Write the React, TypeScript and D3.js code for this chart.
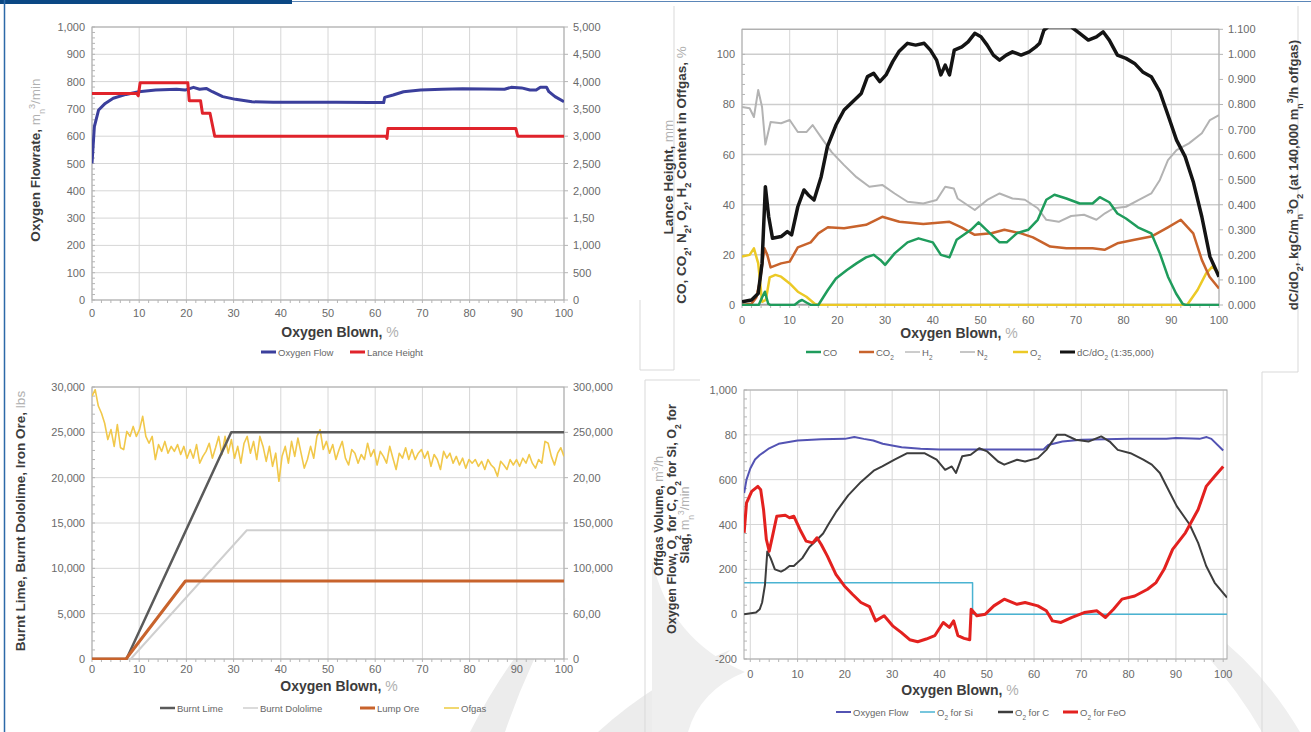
import React, { useEffect, useRef } from "react";
import * as d3 from "d3";

type Pt = [number, number];

// ---- shared x axis: oxygen blown, %
const blownTicks = [0, 10, 20, 30, 40, 50, 60, 70, 80, 90, 100];

// ---- chart 1: oxygen flowrate (left) and lance height (right)
const flowTicks = [0, 100, 200, 300, 400, 500, 600, 700, 800, 900, 1000];
const flowLabels = ["0", "100", "200", "300", "400", "500", "600", "700", "800", "900", "1,000"];
const lanceTicks = [0, 500, 1000, 1500, 2000, 2500, 3000, 3500, 4000, 4500, 5000];
const lanceLabels = ["0", "500", "1,000", "1,50", "2,000", "2,500", "3,000", "3,500", "4,000", "4,500", "5,000"];
const oxygenFlow: Pt[] = [
  [0, 500], [0.5, 635], [1.4, 696], [2.8, 720], [4.5, 739], [7.2, 753], [9.9, 763], [13.5, 769],
  [17.9, 772], [19.7, 769], [21.5, 779], [22.8, 772], [24.2, 775], [25.5, 763], [27.7, 745],
  [30.4, 735], [33.9, 726], [38.4, 724], [42.9, 724], [51.8, 724], [58.9, 723], [61.8, 723],
  [62, 742], [63.8, 751], [66, 763], [69.6, 769], [74.1, 772], [78.5, 774], [87.4, 772],
  [88.8, 779], [91, 777], [92.8, 769], [94.1, 769], [95, 779], [96.3, 779], [96.8, 763],
  [98.1, 745], [100, 726],
];
const lanceHeight: Pt[] = [
  [0, 3780], [9.5, 3780], [9.8, 3740], [10.2, 3980], [20.3, 3980], [20.6, 3650], [23, 3650],
  [23.4, 3420], [25, 3420], [26, 3000], [62.3, 3000], [62.5, 2960], [62.7, 3140], [89.8, 3140],
  [90.2, 3000], [100, 3000],
];

// ---- chart 2: offgas content, % (left) and dC/dO2 (right)
const contentTicks = [0, 20, 40, 60, 80, 100];
const contentGrid = [0, 20, 40, 60, 80, 100, 110];
const rateTicks = [0, 0.1, 0.2, 0.3, 0.4, 0.5, 0.6, 0.7, 0.8, 0.9, 1.0, 1.1];
const coContent: Pt[] = [
  [0, 0], [3.5, 0], [4.2, 3], [4.8, 5.3], [5.5, 0.5], [6, 0], [11, 0], [12, 1.5], [12.6, 2],
  [13.5, 1], [14.5, 0], [16, 0], [17, 3], [18, 6], [19.7, 10.6], [22, 14], [24, 16.6], [26, 19],
  [27.6, 20], [29, 18], [30, 16], [32, 20.6], [34.7, 25], [37, 26.6], [40, 25], [41.7, 20],
  [43.5, 19], [45, 26], [48, 30], [49.6, 33], [52, 28.6], [54, 25], [55.5, 25], [57.6, 28.6],
  [60, 30], [62, 34], [63.8, 42], [65.5, 44], [68, 42.5], [70.8, 40.5], [73.5, 40.5], [75, 43],
  [77, 41], [78.7, 36.5], [80.5, 34.5], [83, 31], [85.8, 28.6], [87.6, 20.6], [89.3, 11.3],
  [91, 4.6], [92.4, 0.4], [93, 0], [100, 0],
];
const co2Content: Pt[] = [
  [0, 0], [2, 0.5], [3, 3], [3.8, 10], [4.7, 22.6], [5.3, 20], [6, 15], [8.2, 16.6], [10, 17.3],
  [11.7, 23], [14.4, 25], [16, 28.6], [18, 31], [21.4, 30.6], [26, 32], [29.4, 35.2], [33, 33.2],
  [38, 32.3], [43.5, 33.2], [46, 31], [48.8, 28], [52.3, 28.6], [55, 30], [58.5, 28.6], [61, 27],
  [64.6, 23.3], [68, 22.6], [73.5, 22.6], [76, 22], [78.7, 24.6], [82.3, 26], [85.8, 27.3],
  [89.3, 31], [92, 34], [94.6, 28.6], [96.4, 18], [98, 11.3], [100, 6.6],
];
const h2Content: Pt[] = [[0, 0.3], [100, 0.3]];
const n2Content: Pt[] = [
  [0, 79], [1.6, 78.5], [2.5, 75], [3.4, 85.8], [4.2, 79], [4.9, 64], [6, 73], [8.2, 72.5],
  [10, 73.8], [11.7, 69], [13.5, 69], [14.8, 71.8], [17, 65.8], [18.8, 61], [21.4, 55.8], [24, 51],
  [26.7, 47.2], [29.4, 47.9], [32, 44.5], [34.7, 41.2], [38, 40.5], [40.8, 41.9], [42.6, 47.2],
  [44.4, 46.5], [45.2, 42.5], [48.8, 37.9], [51.4, 41.9], [54, 44.5], [56.7, 42.5], [59.3, 42],
  [62, 38.6], [63.8, 34], [66.4, 33.2], [69, 35.5], [71.7, 36], [74.3, 34], [76.1, 36.6],
  [77.9, 38.6], [80.5, 39.2], [83.2, 41.9], [85.8, 44.5], [87.6, 49.9], [89.3, 57.8], [91.1, 61.8],
  [93.7, 64.5], [96.4, 68.5], [98.1, 73.8], [100, 75.8],
];
const o2Content: Pt[] = [
  [0, 19.3], [1.6, 20], [2.5, 22.6], [3.4, 16.6], [4.2, 1.3], [5, 2], [5.8, 11], [7, 12],
  [8.2, 11.3], [10, 8.6], [11.7, 5.3], [13.5, 3.3], [15.3, 0.4], [16, 0], [93.3, 0], [95.5, 6],
  [97.3, 12.6], [98.6, 15.3], [100, 12.6],
];
const carbonRate: Pt[] = [
  [0, 0.013], [2, 0.02], [3.4, 0.046], [4.2, 0.166], [4.9, 0.472], [5.6, 0.352], [6.4, 0.266],
  [8.2, 0.273], [9.5, 0.293], [10.4, 0.28], [11.7, 0.392], [13, 0.459], [13.9, 0.439],
  [15.1, 0.419], [16.6, 0.512], [17.9, 0.632], [19.7, 0.718], [21.4, 0.778], [23.2, 0.811],
  [25, 0.844], [26.3, 0.911], [27.6, 0.924], [28.9, 0.891], [30.2, 0.918], [31.6, 0.971],
  [32.9, 1.011], [34.7, 1.044], [36.4, 1.037], [38.2, 1.044], [39.5, 1.017], [40.8, 0.977],
  [41.7, 0.918], [42.6, 0.957], [43.5, 0.918], [44.5, 1.017], [46.1, 1.03], [47.4, 1.05],
  [48.8, 1.084], [50.1, 1.07], [51.4, 1.037], [52.7, 0.997], [54, 0.977], [55.4, 0.997],
  [56.7, 1.01], [58.5, 0.997], [60.2, 1.01], [61.6, 1.03], [62.4, 1.044], [63.3, 1.097],
  [64.2, 1.11], [69, 1.11], [70.8, 1.084], [72.6, 1.057], [74.3, 1.07], [75.7, 1.09], [77, 1.057],
  [78.7, 0.997], [80.5, 0.984], [82.3, 0.964], [84, 0.93], [85.8, 0.911], [87.6, 0.851],
  [89.3, 0.758], [91.1, 0.658], [92.9, 0.592], [94.6, 0.492], [96.4, 0.352], [98.1, 0.193],
  [100, 0.113],
];

// ---- chart 3: flux additions, lbs (left) and offgas (right, thousands)
const fluxTicks = [0, 5000, 10000, 15000, 20000, 25000, 30000];
const fluxLabels = ["0", "5,000", "10,000", "15,000", "20,000", "25,000", "30,000"];
const offgasTicks = [0, 50, 100, 150, 200, 250, 300];
const offgasLabels = ["0", "60,00", "100,000", "150,000", "20,00", "250,000", "300,000"];
const burntLime: Pt[] = [[0, 0], [7.3, 0], [29.5, 25000], [100, 25000]];
const burntDolomite: Pt[] = [[0, 0], [8.2, 0], [32.8, 14200], [100, 14200]];
const lumpOre: Pt[] = [[0, 0], [7.2, 0], [19.8, 8600], [100, 8600]];
// offgas readings, evenly spaced over 0–100 % blown
const offgasValues = [
  290, 297, 279, 271, 260, 242, 253, 234.5, 258.5, 233,
  231, 251, 245.5, 256.5, 245.5, 253, 267.6, 245.5, 238, 245.5,
  220, 236.5, 229, 240, 227, 234.5, 229, 236.5, 225.5, 234.5,
  221.5, 231, 221.5, 236.5, 216, 223.5, 229, 238, 221.5, 233,
  245.5, 225.5, 245.5, 227, 242, 221.5, 234.5, 216, 238, 245.5,
  227, 240, 220, 245.5, 234.5, 218, 234.5, 212.5, 227, 196,
  223.5, 234.5, 216, 240, 223.5, 243.7, 227, 210.5, 220, 234.5,
  221.5, 245.5, 253, 231, 240, 227, 236.5, 220, 231, 240,
  221.5, 214, 231, 227, 216, 225.5, 220, 238, 223.5, 231,
  214, 229, 223.5, 216, 234.5, 221.5, 209, 227, 221.5, 233,
  220, 231, 220, 227, 231, 221.5, 229, 212.5, 225.5, 220,
  209, 229, 221.5, 227, 216, 223.5, 214, 221.5, 210.5, 220,
  216, 220, 212.5, 218, 209, 220, 214, 210.5, 201.5, 218,
  214, 209, 220, 214, 220, 212.5, 221.5, 216, 225.5, 216,
  210.5, 220, 216, 240, 238, 223.5, 214, 227, 233, 223.5,
];

// ---- chart 4: oxygen balance, m3/min
const balanceTicks = [-200, 0, 200, 400, 600, 800, 1000];
const balanceLabels = ["-200", "0", "200", "400", "600", "80", "1,000"];
const flow4: Pt[] = [
  [-1.3, 540], [-0.8, 600], [0, 650], [1, 690], [2, 710], [4, 740], [6, 760], [10, 775], [15, 780],
  [20, 782], [22, 790], [24, 782], [26, 775], [28, 760], [32, 745], [36, 738], [40, 735], [50, 735],
  [62, 735], [63, 755], [66, 770], [70, 778], [80, 782], [88, 782], [90, 786], [95, 782],
  [96.5, 790], [97.5, 782], [100, 730],
];
const o2ForSi: Pt[] = [[-1.3, 140], [47, 140], [47, 0], [100.8, 0]];
const o2ForC: Pt[] = [
  [-1.3, 0], [1.2, 7], [2, 22], [2.5, 52], [3.1, 130], [3.6, 280], [4.3, 250], [5.2, 200],
  [6.5, 190], [7.4, 200], [8.3, 215], [9.2, 215], [11, 250], [12.5, 300], [14, 330], [15.4, 360],
  [16.5, 400], [18.1, 455], [20.7, 530], [23.4, 590], [26.1, 640], [27.9, 659], [30.5, 689],
  [33.2, 718], [36.8, 718], [39.4, 689], [41.2, 644], [42.6, 659], [43.5, 630], [44.8, 704],
  [46.6, 711], [48.4, 740], [50.1, 726], [52.4, 681], [53.7, 667], [56.4, 689], [58.1, 681],
  [60.8, 696], [62.6, 733], [64.8, 800], [66.6, 800], [68.8, 778], [71.5, 770], [74.2, 793],
  [76, 770], [77.7, 733], [80.4, 718], [83.1, 689], [84.9, 667], [86.6, 630], [88.4, 555],
  [90.2, 481], [92.9, 400], [94.7, 318], [96.4, 215], [98.2, 140], [100.8, 74],
];
const o2ForFeO: Pt[] = [
  [-1.3, 363], [-0.8, 496], [0.3, 548], [1.6, 570], [2.2, 555], [2.8, 467], [3.4, 333], [4, 281],
  [4.7, 348], [5.6, 437], [7.4, 441], [8.3, 430], [9.2, 437], [10.5, 378], [11.8, 326],
  [13.2, 318], [14.1, 341], [15, 311], [16.3, 259], [18.1, 178], [19.9, 126], [21.6, 89],
  [23.4, 52], [25.2, 34], [26.5, -30], [28.3, -7], [30.1, -52], [31.9, -81], [33.7, -114],
  [35.4, -123], [37.2, -111], [39, -96], [40.8, -37], [42.1, -59], [43, -30], [43.9, -96],
  [45.2, -108], [46.4, -114], [46.7, 22], [47.9, -7], [49.7, 0], [51.5, 37], [53.7, 67],
  [56.4, 44], [58.1, 52], [60.8, 37], [62.6, 15], [63.9, -30], [65.7, -37], [67.9, -15],
  [70.6, 7], [73.3, 15], [75.1, -15], [76.8, 22], [78.6, 67], [81.3, 81], [84, 111], [85.8, 141],
  [87.5, 200], [89.3, 289], [92, 363], [94.7, 467], [96.4, 570], [98.2, 615], [100, 659],
];

const FONT = "'Liberation Sans', Arial, Helvetica, sans-serif";
type Part = [string, string?];

// text made of pieces: g = grey unit, b = subscript, p = superscript
function rich(sel: any, parts: Part[]) {
  for (const [t, s = ""] of parts) {
    const ts = sel.append("tspan").text(t);
    if (s.includes("g")) ts.attr("fill", "#b0b0b0").attr("font-weight", "normal");
    if (s.includes("b")) ts.attr("baseline-shift", "sub").attr("font-size", "68%");
    if (s.includes("p")) ts.attr("baseline-shift", "super").attr("font-size", "68%");
  }
}

interface LineSpec { data: Pt[]; color: string; width: number; right?: boolean }
interface PanelSpec {
  id: string;
  x0: number; x1: number; top: number; bottom: number;
  xDomain: [number, number];
  yDomain: [number, number];
  yTicks: number[]; yLabels: string[];
  hGrid: number[]; hGridColor?: string; hGridWidth?: number;
  rDomain?: [number, number]; rTicks?: number[]; rLabels?: string[];
  xLabelY: number;
  lines: LineSpec[];
}

function drawPanel(svg: any, p: PanelSpec) {
  const x = d3.scaleLinear().domain(p.xDomain).range([p.x0, p.x1]);
  const y = d3.scaleLinear().domain(p.yDomain).range([p.bottom, p.top]);
  const yr = d3.scaleLinear().domain(p.rDomain ?? p.yDomain).range([p.bottom, p.top]);
  const g = svg.append("g");

  g.append("rect").attr("x", p.x0).attr("y", p.top).attr("width", p.x1 - p.x0)
    .attr("height", p.bottom - p.top).attr("fill", "#fff");

  // grid
  g.append("g").selectAll("line").data(blownTicks).join("line")
    .attr("x1", (d: number) => x(d)).attr("x2", (d: number) => x(d))
    .attr("y1", p.top).attr("y2", p.bottom)
    .attr("stroke", "#d6d6d6");
  g.append("g").selectAll("line").data(p.hGrid).join("line")
    .attr("x1", p.x0).attr("x2", p.x1)
    .attr("y1", (d: number) => y(d)).attr("y2", (d: number) => y(d))
    .attr("stroke", p.hGridColor ?? "#d6d6d6").attr("stroke-width", p.hGridWidth ?? 1);
  g.append("rect").attr("x", p.x0).attr("y", p.top).attr("width", p.x1 - p.x0)
    .attr("height", p.bottom - p.top).attr("fill", "none").attr("stroke", "#a9a9a9");

  // minor ticks
  g.append("g").selectAll("line").data(d3.range(0, 101, 2)).join("line")
    .attr("x1", (d: number) => x(d)).attr("x2", (d: number) => x(d))
    .attr("y1", p.bottom).attr("y2", p.bottom + 3).attr("stroke", "#b5b5b5");
  const step = p.yTicks[1] - p.yTicks[0];
  const yMinor = d3.range(p.yTicks[0], p.yTicks[p.yTicks.length - 1] + 1, step / 5);
  g.append("g").selectAll("line").data(yMinor).join("line")
    .attr("x1", p.x0).attr("x2", p.x0 + 3)
    .attr("y1", (d: number) => y(d)).attr("y2", (d: number) => y(d)).attr("stroke", "#b5b5b5");
  if (p.rTicks) {
    g.append("g").selectAll("line").data(p.rTicks).join("line")
      .attr("x1", p.x1).attr("x2", p.x1 + 4)
      .attr("y1", (d: number) => yr(d)).attr("y2", (d: number) => yr(d)).attr("stroke", "#b5b5b5");
  }

  // series
  const clip = g.append("clipPath").attr("id", p.id);
  clip.append("rect").attr("x", p.x0).attr("y", p.top - 1).attr("width", p.x1 - p.x0)
    .attr("height", p.bottom - p.top + 2);
  const lg = g.append("g").attr("clip-path", `url(#${p.id})`);
  p.lines.forEach((l) => {
    const sy = l.right ? yr : y;
    lg.append("path").datum(l.data)
      .attr("fill", "none").attr("stroke", l.color).attr("stroke-width", l.width)
      .attr("stroke-linejoin", "round")
      .attr("d", d3.line<Pt>().x((d) => x(d[0])).y((d) => sy(d[1])));
  });

  // labels
  const lab = g.append("g").attr("font-family", FONT).attr("font-size", 11).attr("fill", "#6a6a6a");
  lab.selectAll(".yl").data(p.yTicks).join("text")
    .attr("x", p.x0 - 7).attr("y", (d: number) => y(d) + 4).attr("text-anchor", "end")
    .text((_: number, i: number) => p.yLabels[i]);
  if (p.rTicks && p.rLabels) {
    lab.selectAll(".rl").data(p.rTicks).join("text")
      .attr("x", p.x1 + 9).attr("y", (d: number) => yr(d) + 4)
      .text((_: number, i: number) => p.rLabels![i]);
  }
  lab.selectAll(".xl").data(blownTicks).join("text")
    .attr("x", (d: number) => x(d)).attr("y", p.xLabelY).attr("text-anchor", "middle")
    .text((d: number) => String(d));
}

function title(svg: any, x: number, y: number, parts: Part[], rotate: boolean, size = 13.5) {
  const t = svg.append("text")
    .attr("font-family", FONT).attr("font-size", size).attr("font-weight", "bold")
    .attr("fill", "#3c3c3c").attr("text-anchor", "middle")
    .attr("transform", rotate ? `translate(${x},${y}) rotate(-90)` : `translate(${x},${y})`);
  rich(t, parts);
}

interface LegendItem { x: number; color: string; width: number; parts: Part[] }
function legend(svg: any, y: number, items: LegendItem[]) {
  const g = svg.append("g").attr("font-family", FONT).attr("font-size", 9.5).attr("fill", "#666");
  items.forEach((it) => {
    g.append("line").attr("x1", it.x).attr("x2", it.x + 15).attr("y1", y).attr("y2", y)
      .attr("stroke", it.color).attr("stroke-width", it.width);
    rich(g.append("text").attr("x", it.x + 17).attr("y", y + 3.5), it.parts);
  });
}

const blownTitle: Part[] = [["Oxygen Blown, "], ["%", "g"]];

const App = () => {
  const ref = useRef<SVGSVGElement>(null);

  useEffect(() => {
    const svg = d3.select(ref.current);
    svg.selectAll("*").remove();

    // page decoration
    const deco = svg.append("g");
    deco.append("path").attr("fill", "#ececec")
      .attr("d", "M566,598 Q512,650 470,732 L505,732 Q528,664 566,598 Z");
    deco.append("path").attr("fill", "#ececec")
      .attr("d", "M730,650 Q655,680 598,732 L660,732 Q690,690 730,650 Z");
    deco.append("path").attr("fill", "#efefef")
      .attr("d", "M652,560 Q670,640 745,672 Q700,690 688,732 L652,732 Z");
    deco.append("path").attr("fill", "#efefef")
      .attr("d", "M1130,585 Q1240,630 1300,732 L1262,732 Q1215,650 1130,585 Z");
    deco.append("rect").attr("x", 0).attr("y", 0).attr("width", 292).attr("height", 4).attr("fill", "#0b4884");
    deco.append("line").attr("x1", 292).attr("x2", 1311).attr("y1", 1.5).attr("y2", 1.5)
      .attr("stroke", "#5b86b8");
    deco.append("line").attr("x1", 4.5).attr("x2", 4.5).attr("y1", 0).attr("y2", 732)
      .attr("stroke", "#2c69a8").attr("stroke-width", 1.5);
    deco.append("path").attr("fill", "none").attr("stroke", "#d9d9d9")
      .attr("d", "M640,300 V370 H674 V6 M645,732 V380 H700 M1298,6 V372 H1262 V732");

    // chart 1
    drawPanel(svg, {
      id: "c1", x0: 92, x1: 564, top: 27, bottom: 300,
      xDomain: [0, 100], yDomain: [0, 1000],
      yTicks: flowTicks, yLabels: flowLabels, hGrid: flowTicks,
      rDomain: [0, 5000], rTicks: lanceTicks, rLabels: lanceLabels,
      xLabelY: 317,
      lines: [
        { data: oxygenFlow, color: "#3b3f9c", width: 3 },
        { data: lanceHeight, color: "#e0232b", width: 3, right: true },
      ],
    });
    title(svg, 40, 160, [["Oxygen Flowrate, "], ["m", "g"], ["n", "gb"], ["3", "gp"], ["/min", "g"]], true);
    title(svg, 340, 337, blownTitle, false, 14);
    legend(svg, 352, [
      { x: 261, color: "#3b3f9c", width: 3, parts: [["Oxygen Flow"]] },
      { x: 350, color: "#e0232b", width: 3, parts: [["Lance Height"]] },
    ]);

    // chart 2
    drawPanel(svg, {
      id: "c2", x0: 742, x1: 1219, top: 29.3, bottom: 305,
      xDomain: [0, 100], yDomain: [0, 110],
      yTicks: contentTicks, yLabels: contentTicks.map(String), hGrid: contentGrid,
      hGridColor: "#cdcdcd", hGridWidth: 1.5,
      rDomain: [0, 1.1], rTicks: rateTicks, rLabels: rateTicks.map(d3.format(".3f")),
      xLabelY: 324,
      lines: [
        { data: h2Content, color: "#9a9a9a", width: 1 },
        { data: n2Content, color: "#b3b3b3", width: 2 },
        { data: o2Content, color: "#ecc925", width: 2.5 },
        { data: co2Content, color: "#c8632c", width: 2.5 },
        { data: coContent, color: "#1f9c5c", width: 2.5 },
        { data: carbonRate, color: "#141414", width: 3.5, right: true },
      ],
    });
    title(svg, 673, 177, [["Lance Height, "], ["mm", "g"]], true);
    title(svg, 686, 175, [["CO, CO"], ["2", "b"], [", N"], ["2", "b"], [", O"], ["2", "b"], [", H"], ["2", "b"],
      [" Content in Offgas, "], ["%", "g"]], true);
    title(svg, 1298, 175, [["dC/dO"], ["2", "b"], [", kgC/m"], ["n", "b"], ["3", "p"], ["O"], ["2", "b"],
      [" (at 140,000 m"], ["n", "b"], ["3", "p"], ["/h offgas)"]], true, 13);
    title(svg, 959, 338, blownTitle, false, 14);
    legend(svg, 352, [
      { x: 806, color: "#1f9c5c", width: 2.5, parts: [["CO"]] },
      { x: 859, color: "#c8632c", width: 2.5, parts: [["CO"], ["2", "b"]] },
      { x: 905, color: "#9a9a9a", width: 1, parts: [["H"], ["2", "b"]] },
      { x: 960, color: "#b3b3b3", width: 1.5, parts: [["N"], ["2", "b"]] },
      { x: 1013, color: "#ecc925", width: 2.5, parts: [["O"], ["2", "b"]] },
      { x: 1060, color: "#141414", width: 3, parts: [["dC/dO"], ["2", "b"], [" (1:35,000)"]] },
    ]);

    // chart 3
    const n = offgasValues.length;
    const offgas: Pt[] = offgasValues.map((v, i) => [(i / (n - 1)) * 100, v]);
    drawPanel(svg, {
      id: "c3", x0: 92, x1: 564, top: 387, bottom: 659,
      xDomain: [0, 100], yDomain: [0, 30000],
      yTicks: fluxTicks, yLabels: fluxLabels, hGrid: fluxTicks,
      rDomain: [0, 300], rTicks: offgasTicks, rLabels: offgasLabels,
      xLabelY: 673,
      lines: [
        { data: offgas, color: "#f1c84a", width: 1.6, right: true },
        { data: burntDolomite, color: "#cfcfcf", width: 2 },
        { data: burntLime, color: "#5a5a5a", width: 2.5 },
        { data: lumpOre, color: "#c8632c", width: 3 },
      ],
    });
    title(svg, 25, 521, [["Burnt Lime, Burnt Dololime, Iron Ore, "], ["lbs", "g"]], true);
    title(svg, 339, 691, blownTitle, false, 14);
    legend(svg, 708, [
      { x: 160, color: "#5a5a5a", width: 2.5, parts: [["Burnt Lime"]] },
      { x: 243, color: "#cfcfcf", width: 1.5, parts: [["Burnt Dololime"]] },
      { x: 360, color: "#c8632c", width: 3, parts: [["Lump Ore"]] },
      { x: 444, color: "#f1d870", width: 2, parts: [["Ofgas"]] },
    ]);

    // chart 4
    drawPanel(svg, {
      id: "c4", x0: 744, x1: 1227, top: 390, bottom: 659,
      xDomain: [-1.33, 100.8], yDomain: [-200, 1000],
      yTicks: balanceTicks, yLabels: balanceLabels, hGrid: balanceTicks,
      xLabelY: 678,
      lines: [
        { data: o2ForSi, color: "#4ab3d2", width: 1.5 },
        { data: flow4, color: "#5353b3", width: 2 },
        { data: o2ForC, color: "#3d3d3d", width: 2 },
        { data: o2ForFeO, color: "#e3211f", width: 3 },
      ],
    });
    title(svg, 663, 516, [["Offgas Volume, "], ["m", "g"], ["3", "gp"], ["/h", "g"]], true, 12.5);
    title(svg, 676, 519, [["Oxygen Flow, O"], ["2", "b"], [" for C, O"], ["2", "b"], [" for Si, O"], ["2", "b"],
      [" for"]], true, 12.5);
    title(svg, 689, 525, [["Slag, "], ["m", "g"], ["n", "gb"], ["3", "gp"], ["/min", "g"]], true, 12.5);
    title(svg, 960, 695, blownTitle, false, 14);
    legend(svg, 712, [
      { x: 836, color: "#5353b3", width: 2, parts: [["Oxygen Flow"]] },
      { x: 920, color: "#4ab3d2", width: 1.5, parts: [["O"], ["2", "b"], [" for Si"]] },
      { x: 998, color: "#3d3d3d", width: 2.5, parts: [["O"], ["2", "b"], [" for C"]] },
      { x: 1063, color: "#e3211f", width: 3, parts: [["O"], ["2", "b"], [" for FeO"]] },
    ]);
  }, []);

  return (
    <svg
      ref={ref}
      width={1311}
      height={732}
      style={{ position: "absolute", left: 0, top: 0, background: "#fff" }}
    />
  );
};

export default App;
